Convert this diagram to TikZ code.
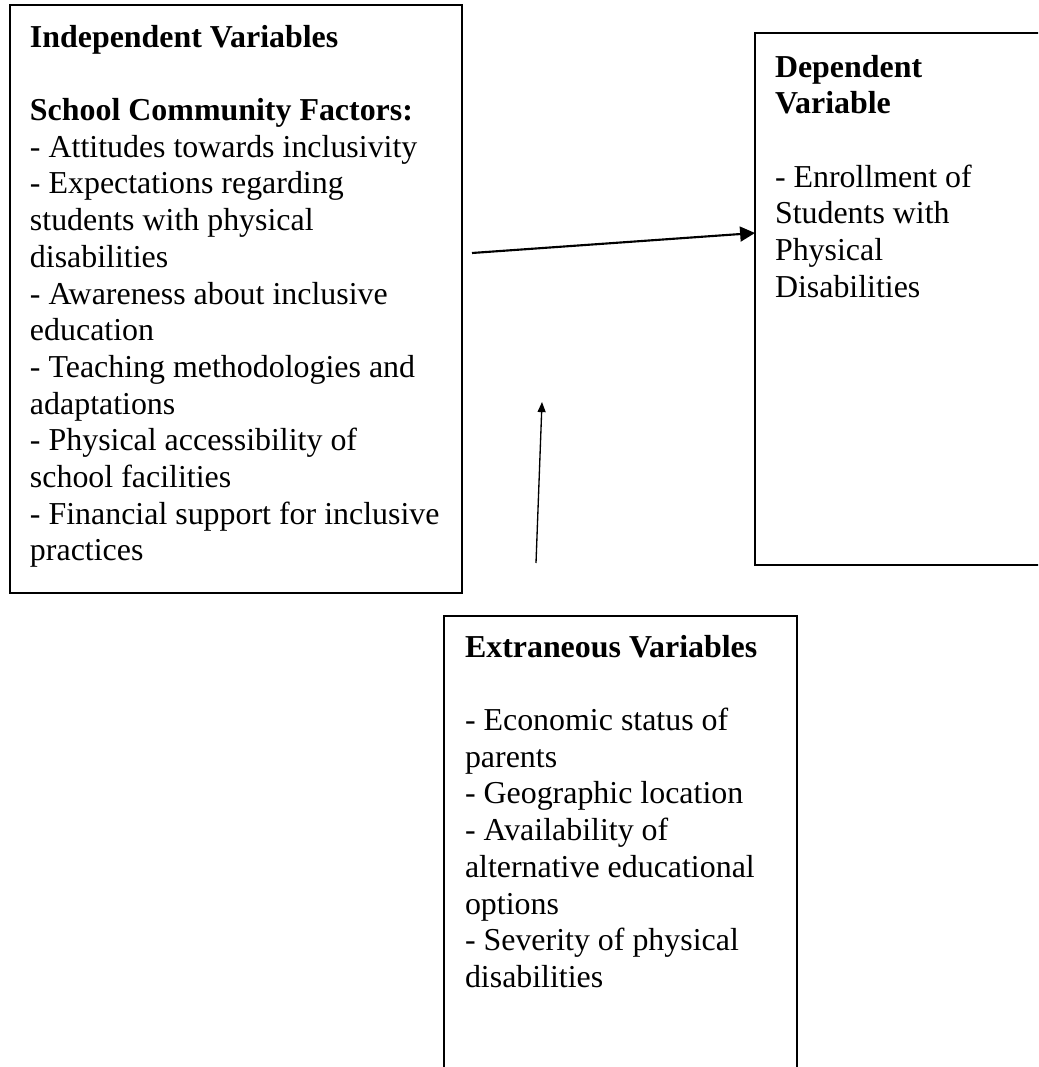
\documentclass[tikz,border=0pt]{standalone}
\usepackage{fontspec}
\setmainfont{Liberation Serif}
\usetikzlibrary{fit,arrows.meta}

\begin{document}
\begin{tikzpicture}[x=0.376pt,y=-0.376pt]
    \tikzstyle{every node}=[inner sep=0,outer sep=0]
    \tikzstyle{varbox}=[draw,line width=0.8pt]
    \tikzstyle{vartext}=[anchor=north west,align=left,font=\fontsize{12}{13.8}\selectfont]
    \useasboundingbox (0,0) rectangle (1038,1067);
    \clip (0,0) rectangle (1038,1067);
    \node[varbox,fit={(10,5) (462,593)}] (indep) {};
    \node[varbox,fit={(755,33) (1060,565)}] (dep) {};
    \node[varbox,fit={(444,616) (797,1090)}] (extr) {};
    \node[vartext] (indeptext) at (30,25) {\textbf{Independent Variables}\\[13.8pt]
        \textbf{School Community Factors:}\\
        - Attitudes towards inclusivity\\
        - Expectations regarding\\
        students with physical\\
        disabilities\\
        - Awareness about inclusive\\
        education\\
        - Teaching methodologies and\\
        adaptations\\
        - Physical accessibility of\\
        school facilities\\
        - Financial support for inclusive\\
        practices};
    \node[vartext] (deptext) at (775,55) {\textbf{Dependent}\\
        \textbf{Variable}\\[13.8pt]
        - Enrollment of\\
        Students with\\
        Physical\\
        Disabilities};
    \node[vartext] (extrtext) at (465,635) {\textbf{Extraneous Variables}\\[13.8pt]
        - Economic status of\\
        parents\\
        - Geographic location\\
        - Availability of\\
        alternative educational\\
        options\\
        - Severity of physical\\
        disabilities};
    \coordinate (tail1) at (472,253);
    \draw (tail1) -- (dep.west |- 0,233) [-{Triangle[length=5.6pt,width=5.6pt]},line width=0.8pt];
    \coordinate (tail2) at (536,563);
    \coordinate (head2) at (542,402);
    \draw (tail2) -- (head2) [-{Triangle[length=3.8pt,width=3pt]},line width=0.5pt];
\end{tikzpicture}
\end{document}
